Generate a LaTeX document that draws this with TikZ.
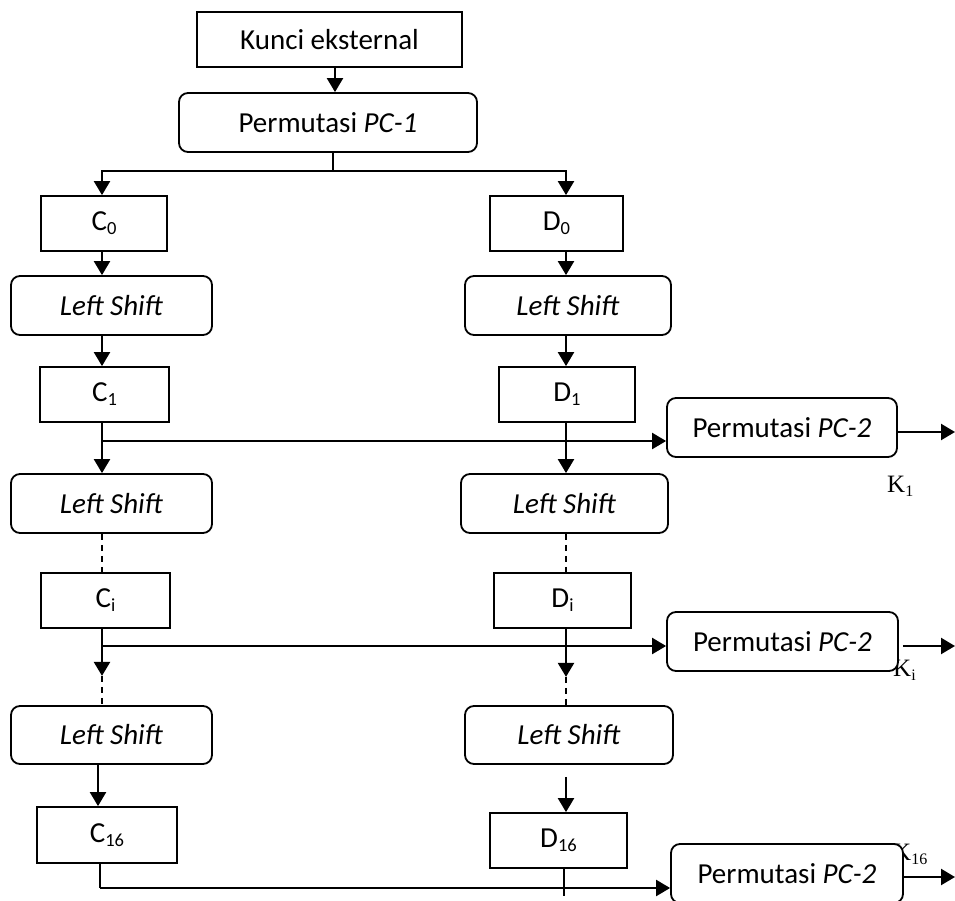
\documentclass[tikz,border=0pt]{standalone}
\usepackage{fontspec}
\setmainfont{Carlito}
\newfontfamily\serifk{Liberation Serif}
\usetikzlibrary{arrows.meta,calc}
% lowered, smaller index after a box letter
\newcommand\lowsub[1]{\raisebox{-4pt}{\fontsize{18.5}{18.5}\selectfont #1}}
\newcommand\ksub[1]{\raisebox{-4pt}{\fontsize{16}{16}\selectfont #1}}

\begin{document}
\begin{tikzpicture}[x=1pt,y=-1pt,
  font=\fontsize{29}{31}\selectfont,
  sq/.style={draw,line width=1.8pt,fill=white,inner sep=0pt,minimum height=55pt},
  rd/.style={draw,line width=1.8pt,fill=white,rounded corners=9pt,inner sep=0pt,minimum height=59pt},
  arr/.style={line width=2.3pt,-{Triangle[length=14pt,width=16pt]}},
  ln/.style={line width=1.8pt},
  dsh/.style={line width=1.8pt,dash pattern=on 6pt off 5pt},
  klab/.style={font=\serifk\fontsize{25}{25}\selectfont,inner sep=0pt,anchor=base west}]

\useasboundingbox (0,0) rectangle (955,901);

% subkey labels (partly covered by the boxes drawn afterwards)
\node[klab] (k1) at (887,492) {K\ksub{1}};
\node[klab] (ki) at (893,676) {K\ksub{i}};
\node[klab] (k16) at (893,860) {K\ksub{16}};

% boxes
\node[sq,minimum width=265pt] (kunci) at (329.5,39.5) {Kunci eksternal};
\node[rd,minimum width=298pt] (pc1) at (328,122.5) {Permutasi \textit{PC-1}};
\node[sq,minimum width=126pt] (c0) at (104,223.5) {C\lowsub{0}};
\node[sq,minimum width=133pt] (d0) at (556.5,223.5) {D\lowsub{0}};
\node[rd,minimum width=201pt] (lsc1) at (111.5,305.5) {\textit{Left Shift}};
\node[rd,minimum width=206pt] (lsd1) at (568,305.5) {\textit{Left Shift}};
\node[sq,minimum width=129pt] (c1) at (104.5,394.5) {C\lowsub{1}};
\node[sq,minimum width=136pt] (d1) at (567,394.5) {D\lowsub{1}};
\node[rd,minimum width=230pt] (pca) at (782,427.5) {Permutasi \textit{PC-2}};
\node[rd,minimum width=201pt] (lsc2) at (111.5,503.5) {\textit{Left Shift}};
\node[rd,minimum width=207pt] (lsd2) at (564.5,503.5) {\textit{Left Shift}};
\node[sq,minimum width=129pt] (ci) at (105.5,600.5) {C\lowsub{i}};
\node[sq,minimum width=137pt] (di) at (562.5,600.5) {D\lowsub{i}};
\node[rd,minimum width=231pt] (pcb) at (782.5,641.5) {Permutasi \textit{PC-2}};
\node[rd,minimum width=201pt,minimum height=58pt] (lsc3) at (111.5,735) {\textit{Left Shift}};
\node[rd,minimum width=208pt,minimum height=58pt] (lsd3) at (569,735) {\textit{Left Shift}};
\node[sq,minimum width=140pt,minimum height=56pt] (c16) at (107,835) {C\lowsub{16}};
\node[sq,minimum width=137pt] (d16) at (558.5,840.5) {D\lowsub{16}};
\node[rd,minimum width=232pt] (pcc) at (787,873.5) {Permutasi \textit{PC-2}};

% column guides and branch points
\coordinate (L) at (102,0);
\coordinate (L2) at (98,0);
\coordinate (R) at (566,0);
\coordinate (R2) at (564,0);
\coordinate (K) at (335,0);
\coordinate (split) at (333,171);
\coordinate (b1) at (102,441);
\coordinate (b2) at (102,646);
\coordinate (b3) at (100,888);
\coordinate (o1) at (955,432);
\coordinate (o2) at (955,646);
\coordinate (o3) at (955,877);

% connectors
\draw[arr] (kunci.south -| K) -- (pc1.north -| K);
\draw[ln] (pc1.south -| split) -- (split);
\draw[arr] (split) -| (c0.north -| L);
\draw[arr] (split) -| (d0.north -| R);

\draw[arr] (c0.south -| L) -- (lsc1.north -| L);
\draw[arr] (d0.south -| R) -- (lsd1.north -| R);
\draw[arr] (lsc1.south -| L) -- (c1.north -| L);
\draw[arr] (lsd1.south -| R) -- (d1.north -| R);
\draw[arr] (c1.south -| L) -- (lsc2.north -| L);
\draw[arr] (d1.south -| R) -- (lsd2.north -| R);
\draw[arr] (b1) -- (b1 -| pca.west);

\draw[dsh] (lsc2.south -| L) -- (ci.north -| L);
\draw[dsh] (lsd2.south -| R) -- (di.north -| R);

\draw[arr] (ci.south -| L) -- ++(0,47) coordinate (ca);
\draw[dsh] (ca) -- (lsc3.north -| L);
\draw[arr] (di.south -| R) -- ++(0,48) coordinate (da);
\draw[dsh] (da) -- (lsd3.north -| R);
\draw[arr] (b2) -- (b2 -| pcb.west);

\draw[arr] (lsc3.south -| L2) -- (c16.north -| L2);
\draw[arr] ($(lsd3.south -| R)+(0,12)$) -- (d16.north -| R);
\draw[ln] (c16.south -| b3) -- (b3);
\draw[arr] (b3) -- (b3 -| pcc.west);
\draw[ln] (d16.south -| R2) -- ++(0,27);

\draw[arr] (pca.east |- o1) -- (o1);
\draw[arr] ($(pcb.east |- o2)+(4,0)$) -- (o2);
\draw[arr] (pcc.east |- o3) -- (o3);
\end{tikzpicture}
\end{document}
